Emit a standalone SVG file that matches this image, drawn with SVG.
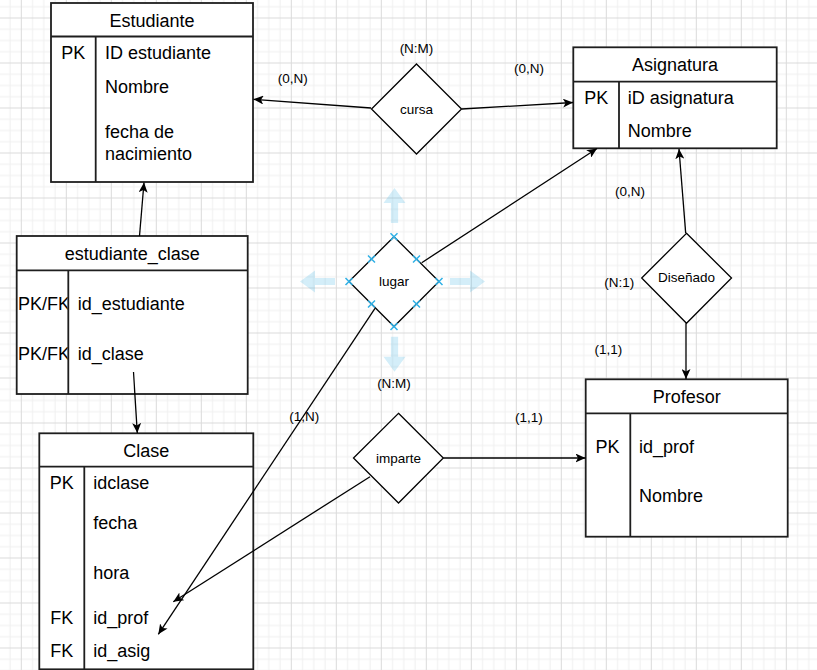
<svg xmlns="http://www.w3.org/2000/svg" width="817" height="670" viewBox="0 0 817 670">
<defs>
<pattern id="grid" patternUnits="userSpaceOnUse" x="20.8" y="17.5" width="45" height="45">
<path d="M11.75,0V45M23,0V45M34.25,0V45M0,11.75H45M0,23H45M0,34.25H45" stroke="#efefef" stroke-width="1" fill="none"/>
<path d="M0.5,0V45M0,0.5H45" stroke="#dadada" stroke-width="1" fill="none"/>
</pattern>
<marker id="arr" viewBox="0 0 10 9" refX="10" refY="4.5" markerWidth="10" markerHeight="9" markerUnits="userSpaceOnUse" orient="auto">
<path d="M0,0 L10,4.5 L0,9 L2.5,4.5 Z" fill="#000"/>
</marker>
<path id="barrow" d="M0,0 L11,15 L3.6,15 L3.6,35 L-3.6,35 L-3.6,15 L-11,15 Z"/>
<path id="xm" d="M-3.5,-3.5L3.5,3.5M-3.5,3.5L3.5,-3.5"/>
<clipPath id="pkclip"><rect x="16" y="270" width="51.5" height="124"/></clipPath>
</defs>
<style>
.box{fill:#fff;stroke:#1e1e1e;stroke-width:1.8}
.ln{stroke:#1e1e1e;stroke-width:1.8;fill:none}
.t{font-family:"Liberation Sans",Arial,sans-serif;font-size:18px;fill:#000}
.m{text-anchor:middle}
.s{font-family:"Liberation Sans",Arial,sans-serif;font-size:13.5px;fill:#000;text-anchor:middle}
.dia{fill:#fff;stroke:#000;stroke-width:1.3}
.con{stroke:#000;stroke-width:1.3;fill:none;marker-end:url(#arr)}
.ba{fill:#29abe2;fill-opacity:0.2}
.xs{stroke:#2fb0e6;stroke-width:1.5;fill:none}
</style>
<rect width="817" height="670" fill="#fff"/>
<rect width="817" height="670" fill="url(#grid)"/>

<g id="estudiante">
<rect class="box" x="51" y="3" width="202" height="179"/>
<path class="ln" d="M51,36.5H253M95.7,36.5V182"/>
<text class="t m" x="152" y="27.3">Estudiante</text>
<text class="t m" x="73.3" y="59.3">PK</text>
<text class="t" x="105" y="59.3">ID estudiante</text>
<text class="t" x="105" y="92.7">Nombre</text>
<text class="t" x="105" y="138.3">fecha de</text>
<text class="t" x="105" y="159.5">nacimiento</text>
</g>

<g id="asignatura">
<rect class="box" x="573.3" y="47.3" width="203.4" height="101"/>
<path class="ln" d="M573.3,81.7H776.7M619,81.7V148.3"/>
<text class="t m" x="675" y="70.7">Asignatura</text>
<text class="t m" x="596.2" y="104">PK</text>
<text class="t" x="627.7" y="104">iD asignatura</text>
<text class="t" x="627.7" y="136.7">Nombre</text>
</g>

<g id="estudiante_clase">
<rect class="box" x="16.7" y="236" width="231" height="158"/>
<path class="ln" d="M16.7,270.3H247.7M68.3,270.3V394"/>
<text class="t m" x="132.2" y="260">estudiante_clase</text>
<g clip-path="url(#pkclip)">
<text class="t" x="18" y="310">PK/FK</text>
<text class="t" x="18" y="360">PK/FK</text>
</g>
<text class="t" x="77.7" y="310">id_estudiante</text>
<text class="t" x="77.7" y="360">id_clase</text>
</g>

<g id="clase">
<rect class="box" x="39.3" y="433.3" width="214" height="236"/>
<path class="ln" d="M39.3,466.7H253.3M84.3,466.7V669.3"/>
<text class="t m" x="146.3" y="457.3">Clase</text>
<text class="t m" x="61.8" y="489.3">PK</text>
<text class="t" x="93.3" y="489.3">idclase</text>
<text class="t" x="93.3" y="529">fecha</text>
<text class="t" x="93.3" y="579.3">hora</text>
<text class="t m" x="61.8" y="624">FK</text>
<text class="t" x="93.3" y="624">id_prof</text>
<text class="t m" x="61.8" y="657.3">FK</text>
<text class="t" x="93.3" y="657.3">id_asig</text>
</g>

<g id="profesor">
<rect class="box" x="585.7" y="379.3" width="202" height="157.4"/>
<path class="ln" d="M585.7,413.3H787.7M630.3,413.3V536.7"/>
<text class="t m" x="686.7" y="403.3">Profesor</text>
<text class="t m" x="607.5" y="452.7">PK</text>
<text class="t" x="639" y="452.7">id_prof</text>
<text class="t" x="639" y="502.3">Nombre</text>
</g>

<g id="cursa">
<path class="dia" d="M416.5,64 L461.5,109 L416.5,154 L371.5,109 Z"/>
<text class="s" x="416.5" y="113.5">cursa</text>
</g>

<g id="lugar">
<path class="dia" d="M394,236.7 L439,281.5 L394,326.5 L349,281.5 Z"/>
<text class="s" x="394" y="286.3">lugar</text>
<g class="xs">
<use href="#xm" x="394" y="236.7"/>
<use href="#xm" x="349" y="281.5"/>
<use href="#xm" x="439" y="281.5"/>
<use href="#xm" x="394" y="326.5"/>
<use href="#xm" x="371.5" y="259"/>
<use href="#xm" x="416.5" y="259"/>
<use href="#xm" x="371.5" y="304"/>
<use href="#xm" x="416.5" y="304"/>
</g>
<g class="ba">
<use href="#barrow" transform="translate(394.5,188)"/>
<use href="#barrow" transform="translate(394.5,371.7) rotate(180)"/>
<use href="#barrow" transform="translate(300,281.5) rotate(-90)"/>
<use href="#barrow" transform="translate(485,281.5) rotate(90)"/>
</g>
</g>

<g id="imparte">
<path class="dia" d="M398.5,413.3 L443.3,458 L398.5,503 L353.5,458 Z"/>
<text class="s" x="398.5" y="462.5">imparte</text>
</g>

<g id="disenado">
<path class="dia" d="M686.5,233.3 L731.5,278 L686.5,323.3 L641.7,278 Z"/>
<text class="s" x="686.5" y="282">Diseñado</text>
</g>

<g id="labels">
<text class="s" x="416.5" y="52.5">(N:M)</text>
<text class="s" x="292.7" y="83">(0,N)</text>
<text class="s" x="529" y="72.5">(0,N)</text>
<text class="s" x="630" y="196">(0,N)</text>
<text class="s" x="619.3" y="286.5">(N:1)</text>
<text class="s" x="608.3" y="353.5">(1,1)</text>
<text class="s" x="529" y="421.5">(1,1)</text>
<text class="s" x="304.3" y="421">(1,N)</text>
<text class="s" x="394" y="387.5">(N:M)</text>
</g>

<g id="connectors">
<path class="con" d="M371,108 L253.5,99.3"/>
<path class="con" d="M461.7,109 L573,102.5"/>
<path class="con" d="M421.7,262.7 L597,148.5"/>
<path class="con" d="M375,308.3 L158.3,634.3"/>
<path class="con" d="M370,476.7 L173.3,601.7"/>
<path class="con" d="M443.3,458 L585.5,458"/>
<path class="con" d="M685.7,233.3 L679,149"/>
<path class="con" d="M686,323.3 L686,379"/>
<path class="con" d="M139.5,236 L144,182.5"/>
<path class="con" d="M133.5,372 L137.3,433"/>
</g>
</svg>
